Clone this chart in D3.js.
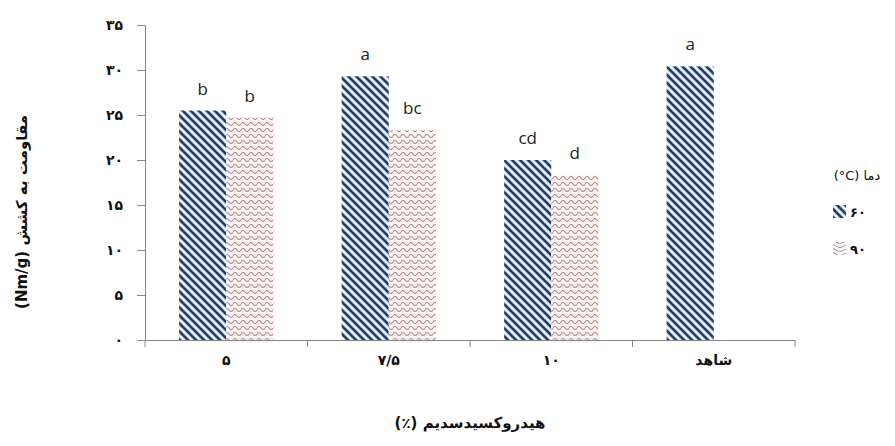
<!DOCTYPE html>
<html>
<head>
<meta charset="utf-8">
<script src="https://cdn.jsdelivr.net/npm/d3@7"></script>
<style>
  body { margin: 0; background: #fff; }
  svg text { font-family: "DejaVu Sans", sans-serif; }
</style>
</head>
<body>
<div id="chart"></div>
<script>
// data
categories = ["۵", "۷/۵", "۱۰", "شاهد"]
series = ["۶۰", "۹۰"]
values60 = [25.5, 29.3, 20.0, 30.4]
values90 = [24.7, 23.3, 18.3, null]
letters60 = ["b", "a", "cd", "a"]
letters90 = ["b", "bc", "d", ""]
yTicks = [0, 5, 10, 15, 20, 25, 30, 35]
yTickLabels = ["۰", "۵", "۱۰", "۱۵", "۲۰", "۲۵", "۳۰", "۳۵"]

margin = {top: 25, right: 100, bottom: 106, left: 145}
width = 895 - margin.left - margin.right
height = 446 - margin.top - margin.bottom

svgRoot = d3.select("#chart")
  .append("svg")
  .attr("width", 895)
  .attr("height", 446)

defs = svgRoot.append("defs")

// wide downward diagonal (blue)
p1 = defs.append("pattern")
  .attr("id", "diag")
  .attr("patternUnits", "userSpaceOnUse")
  .attr("width", 8).attr("height", 8)
p1.append("rect").attr("width", 8).attr("height", 8).attr("fill", "#fff")
p1.append("path")
  .attr("d", "M0,0 L8,8 M-4,4 L4,12 M4,-4 L12,4")
  .attr("stroke", "#c9dcef").attr("stroke-width", 4.4)
p1.append("path")
  .attr("d", "M0,0 L8,8 M-4,4 L4,12 M4,-4 L12,4")
  .attr("stroke", "#1f3b6e").attr("stroke-width", 2.6)

// wave (red)
p2 = defs.append("pattern")
  .attr("id", "wave")
  .attr("patternUnits", "userSpaceOnUse")
  .attr("width", 8).attr("height", 6)
p2.append("rect").attr("width", 8).attr("height", 6).attr("fill", "#fdf6f6")
p2.append("path")
  .attr("d", "M0,3 C1.3,1 2.7,1 4,3 C5.3,5 6.7,5 8,3")
  .attr("fill", "none")
  .attr("stroke", "#b77b7a").attr("stroke-width", 1.1)

// chevrons for the legend key
p3 = defs.append("pattern")
  .attr("id", "chev")
  .attr("patternUnits", "userSpaceOnUse")
  .attr("width", 14).attr("height", 4)
p3.append("path")
  .attr("d", "M0,4 L7,0.5 L14,4")
  .attr("fill", "none")
  .attr("stroke", "#c0807e").attr("stroke-width", 1)

svg = svgRoot.append("g")
  .attr("transform", `translate(${margin.left}, ${margin.top})`)

// scales
x = d3.scaleBand()
  .domain(categories)
  .range([0, width])
  .padding(0)

x1 = d3.scaleBand()
  .domain(series)
  .range([x.bandwidth() * 0.21, x.bandwidth() * 0.79])
  .padding(0)

y = d3.scaleLinear()
  .domain([0, 35])
  .range([height, 0])

// y axis
yAxis = svg.append("g")
  .call(d3.axisLeft(y).tickValues(yTicks).tickSize(8).tickSizeOuter(0)
    .tickFormat((d, i) => yTickLabels[i]))
yAxis.selectAll("line, path").attr("stroke", "#868686")
yAxis.selectAll("text")
  .attr("x", -22)
  .style("font-size", "14px")
  .style("font-weight", "bold")
  .attr("fill", "#111")

// x axis: ticks on the category boundaries
xAxis = svg.append("g")
  .attr("transform", `translate(0, ${height})`)
  .call(d3.axisBottom(x).tickSize(0).tickSizeOuter(0))
xAxis.select(".domain").attr("stroke", "#868686")
xAxis.selectAll("text")
  .attr("dy", "1.6em")
  .style("font-size", "14px")
  .style("font-weight", "bold")
  .attr("fill", "#111")
xAxis.selectAll(".sep")
  .data(categories.concat(["end"]))
  .join("line")
  .attr("class", "sep")
  .attr("x1", (d, i) => i < categories.length ? x(d) : width)
  .attr("x2", (d, i) => i < categories.length ? x(d) : width)
  .attr("y1", 0).attr("y2", 7)
  .attr("stroke", "#868686")

// bars
rows = []
categories.forEach(function(c, i) {
  rows.push({cat: c, s: series[0], v: values60[i], lab: letters60[i], fill: "url(#diag)"})
  if (values90[i] != null)
    rows.push({cat: c, s: series[1], v: values90[i], lab: letters90[i], fill: "url(#wave)"})
})

svg.selectAll(".bar")
  .data(rows)
  .join("rect")
  .attr("class", "bar")
  .attr("x", d => x(d.cat) + x1(d.s))
  .attr("y", d => y(d.v))
  .attr("width", x1.bandwidth())
  .attr("height", d => height - y(d.v))
  .attr("fill", d => d.fill)

svg.selectAll(".lab")
  .data(rows)
  .join("text")
  .attr("class", "lab")
  .attr("x", d => x(d.cat) + x1(d.s) + x1.bandwidth() / 2)
  .attr("y", d => y(d.v) - 16)
  .attr("text-anchor", "middle")
  .style("font-family", "'Open Sans', sans-serif")
  .style("font-size", "17px")
  .attr("fill", "#222")
  .text(d => d.lab)

// axis titles
svgRoot.append("text")
  .attr("transform", "translate(27, 212) rotate(-90)")
  .attr("text-anchor", "middle")
  .attr("direction", "rtl")
  .style("font-size", "15px")
  .style("font-weight", "bold")
  .attr("fill", "#111")
  .text("مقاومت به کشش (Nm/g)")

svgRoot.append("text")
  .attr("x", margin.left + width / 2)
  .attr("y", 428)
  .attr("text-anchor", "middle")
  .attr("direction", "rtl")
  .style("font-size", "15px")
  .style("font-weight", "bold")
  .attr("fill", "#111")
  .text("هیدروکسیدسدیم (٪)")

// legend
legend = svgRoot.append("g")
legend.append("text")
  .attr("x", 857)
  .attr("y", 180)
  .attr("text-anchor", "middle")
  .attr("direction", "rtl")
  .style("font-size", "13px")
  .attr("fill", "#111")
  .text("دما (\u200E°C)")

legendFills = ["url(#diag)", "url(#chev)"]
series.forEach(function(s, i) {
  legend.append("rect")
    .attr("x", 833).attr("y", 205 + i * 37)
    .attr("width", 13).attr("height", 13)
    .attr("fill", legendFills[i])
  legend.append("text")
    .attr("x", 850).attr("y", 217 + i * 37)
    .style("font-size", "13px")
    .style("font-weight", "bold")
    .attr("fill", "#111")
    .text(s)
})
</script>
</body>
</html>
